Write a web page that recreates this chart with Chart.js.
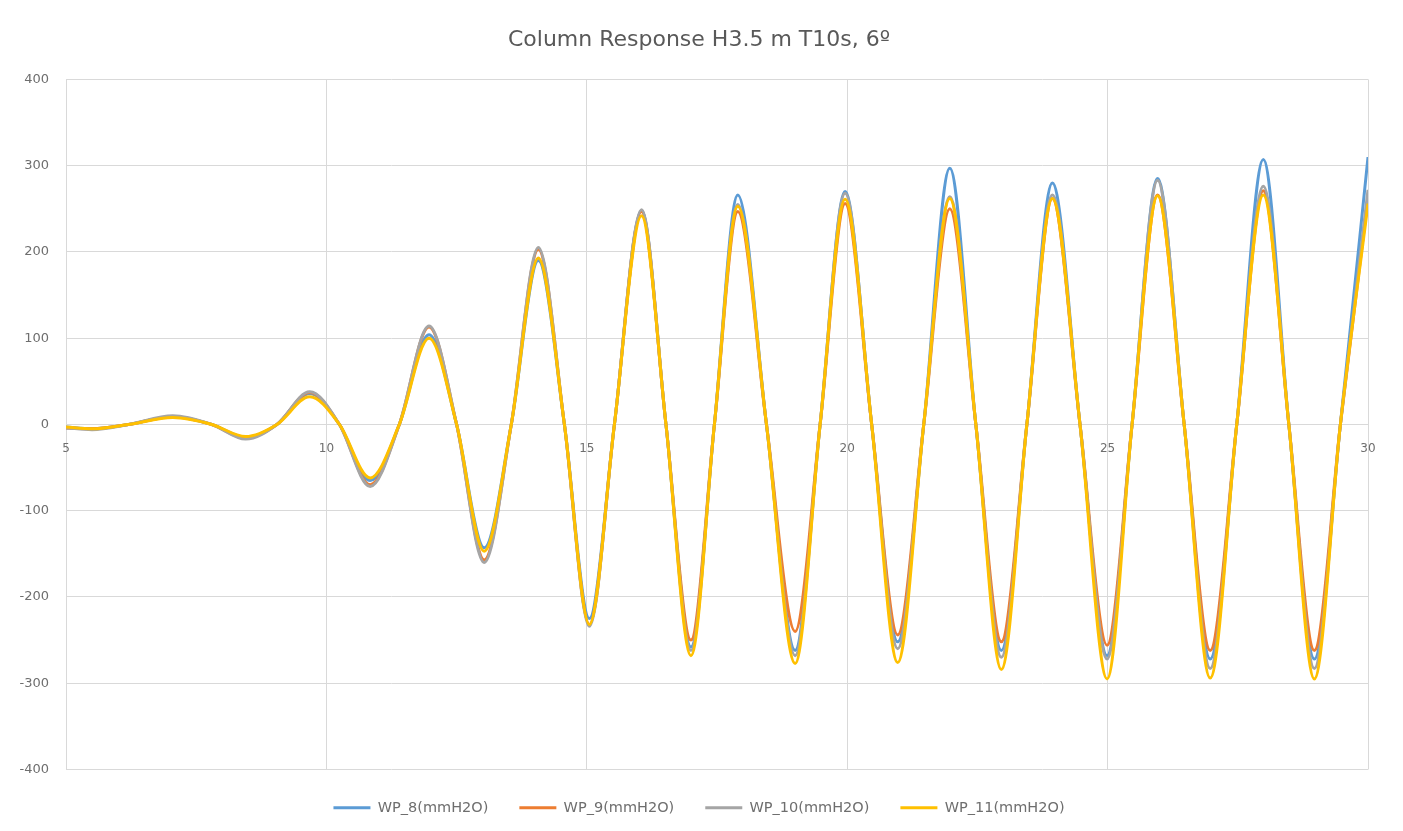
<!DOCTYPE html>
<html>
<head>
<meta charset="utf-8">
<title>Column Response H3.5 m T10s, 6º</title>
<script src="https://cdn.jsdelivr.net/npm/chart.js@4.4.0/dist/chart.umd.min.js"></script>
<style>
  html, body { margin: 0; padding: 0; background: #fff; }
</style>
</head>
<body>
<canvas id="chart" width="1403" height="831"></canvas>
<script>
// time (s) of the peaks, troughs and zero crossings
const times = [5.0, 5.5, 6.2, 7.05, 7.8, 8.45, 9.05, 9.68, 10.25, 10.84, 11.4, 11.97, 12.5, 13.03, 13.55, 14.07,
  14.57, 15.05, 15.53, 16.05, 16.52, 17.0, 17.45, 17.9, 18.45, 19.0, 19.48, 19.96, 20.47, 20.97, 21.47, 21.97,
  22.47, 22.96, 23.45, 23.94, 24.47, 24.99, 25.47, 25.96, 26.47, 26.97, 27.48, 27.99, 28.48, 28.97, 29.47, 30.0];

const wp8 = [-3, -5, 0, 9, 0, -15, 0, 36, 0, -65, 0, 104, 0, -143, 0, 190, 0, -225, 0, 248, 0, -258, 0, 266,
  0, -262, 0, 270, 0, -252, 0, 297, 0, -262, 0, 280, 0, -268, 0, 285, 0, -272, 0, 307, 0, -272, 0, 310];
const wp9 = [-4, -5, 0, 9, 0, -16, 0, 37, 0, -70, 0, 113, 0, -157, 0, 203, 0, -232, 0, 247, 0, -250, 0, 247,
  0, -240, 0, 256, 0, -244, 0, 250, 0, -252, 0, 262, 0, -256, 0, 266, 0, -262, 0, 271, 0, -262, 0, 263];
const wp10 = [-4, -6, 0, 10, 0, -17, 0, 38, 0, -72, 0, 114, 0, -160, 0, 205, 0, -234, 0, 249, 0, -262, 0, 255,
  0, -268, 0, 268, 0, -260, 0, 264, 0, -270, 0, 266, 0, -272, 0, 283, 0, -283, 0, 276, 0, -283, 0, 272];
const wp11 = [-3, -5, 0, 8, 0, -14, 0, 32, 0, -62, 0, 100, 0, -147, 0, 193, 0, -232, 0, 242, 0, -268, 0, 253,
  0, -277, 0, 261, 0, -276, 0, 262, 0, -284, 0, 262, 0, -295, 0, 265, 0, -294, 0, 266, 0, -295, 0, 256];

const seriesNames = ['WP_8(mmH2O)', 'WP_9(mmH2O)', 'WP_10(mmH2O)', 'WP_11(mmH2O)'];
const seriesColors = ['#5B9BD5', '#ED7D31', '#A5A5A5', '#FFC000'];
const xTicks = [5, 10, 15, 20, 25, 30];
const yTicks = [-400, -300, -200, -100, 0, 100, 200, 300, 400];

const toPoints = (vals) => vals.map((v, i) => ({ x: times[i], y: v }));

const datasets = [wp8, wp9, wp10, wp11].map((vals, i) => ({
  label: seriesNames[i],
  data: toPoints(vals),
  borderColor: seriesColors[i],
  backgroundColor: seriesColors[i],
  borderWidth: 3,
  pointRadius: 0,
  cubicInterpolationMode: 'monotone',
  order: 3 - i // yellow drawn on top, like the spreadsheet
}));

const gridColor = '#D9D9D9';
const textColor = '#6E6E6E';

new Chart(document.getElementById('chart'), {
  type: 'line',
  data: { datasets },
  options: {
    responsive: false,
    animation: false,
    layout: { padding: { left: 0, right: 5, top: 0, bottom: 6 } },
    scales: {
      x: {
        type: 'linear',
        min: 5,
        max: 30,
        position: { y: 0 },
        afterBuildTicks: (s) => { s.ticks = xTicks.map(v => ({ value: v })); },
        ticks: { color: textColor, font: { family: 'DejaVu Sans', size: 12 }, padding: 17, maxRotation: 0 },
        grid: { color: gridColor, drawTicks: false },
        border: { display: true, color: gridColor }
      },
      y: {
        min: -400,
        max: 400,
        afterBuildTicks: (s) => { s.ticks = yTicks.map(v => ({ value: v })); },
        afterFit: (s) => { s.width = 66; },
        ticks: { color: textColor, font: { family: 'DejaVu Sans', size: 13 }, padding: 17 },
        grid: { color: gridColor, drawTicks: false },
        border: { display: false }
      },
      // empty right margin so title and legend centre like the original
      yRight: {
        position: 'right',
        min: -400,
        max: 400,
        afterFit: (s) => { s.width = 30; },
        ticks: { display: false },
        grid: { display: false },
        border: { display: false }
      }
    },
    plugins: {
      title: {
        display: true,
        text: 'Column Response H3.5 m T10s, 6º',
        color: '#595959',
        font: { family: 'DejaVu Sans', size: 22, weight: 'normal' },
        padding: { top: 27, bottom: 26 }
      },
      legend: {
        position: 'bottom',
        labels: {
          usePointStyle: true,
          pointStyle: 'line',
          pointStyleWidth: 37,
          color: textColor,
          font: { family: 'DejaVu Sans', size: 14.5 },
          padding: 31,
          sort: (a, b) => a.datasetIndex - b.datasetIndex
        }
      },
      tooltip: { enabled: false }
    }
  }
});
</script>
</body>
</html>
